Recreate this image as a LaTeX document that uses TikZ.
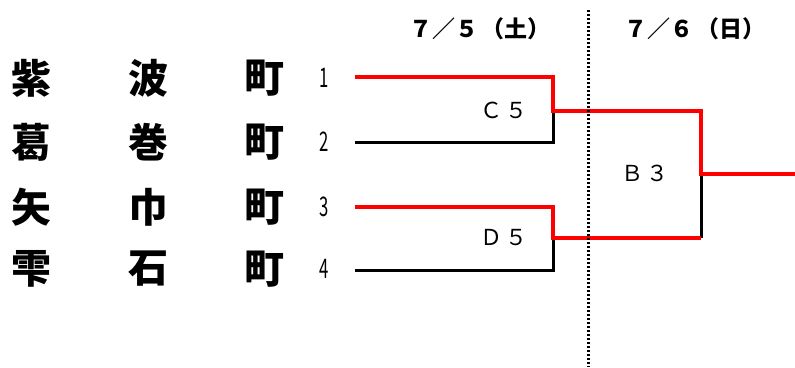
\documentclass[tikz,border=0pt]{standalone}
\usepackage{fontspec}
\newfontfamily\jp{Noto Sans CJK JP}
\begin{document}
\begin{tikzpicture}[x=1pt,y=-1pt,
  townlbl/.style={font=\jp\bfseries\fontsize{40}{40}\selectfont, inner sep=0pt, anchor=center},
  numlbl/.style={font=\jp\fontsize{27}{27}\selectfont, inner sep=0pt},
  datelbl/.style={font=\jp\bfseries\fontsize{23}{23}\selectfont, inner sep=0pt},
  matchlbl/.style={font=\jp\fontsize{22}{22}\selectfont, inner sep=0pt},
  win/.style={red, line width=4pt},
  lose/.style={black, line width=3pt}]
\useasboundingbox (0,0) rectangle (795,367);
% names
\foreach \y/\a/\b/\n [count=\i] in {78/紫/波/1, 142/葛/巻/2, 207/矢/巾/3, 269/雫/石/4}{
  \node[townlbl] (a\i) at (31,\y) {\a};
  \node[townlbl] (b\i) at (148,\y) {\b};
  \node[townlbl] (c\i) at (264,\y) {町};
  \node[numlbl] (n\i) at (324,\y) {\scalebox{0.62}[1]{\n}};
}
% coordinates
\coordinate (s1) at (355,77);
\coordinate (s2) at (355,142);
\coordinate (s3) at (355,207);
\coordinate (s4) at (355,270);
\coordinate (e1) at (553,77);
\coordinate (e2) at (553,142);
\coordinate (e3) at (553,207);
\coordinate (e4) at (553,270);
\coordinate (m1) at (553,111);
\coordinate (m2) at (553,238);
\coordinate (f1) at (701,111);
\coordinate (f2) at (701,238);
\coordinate (fm) at (701,174);
\coordinate (out) at (795,174);
\coordinate (dt) at (588,10);
\coordinate (db) at (588,367);
% lines
\draw[lose] (s2) -- (e2) -- (m1);
\draw[lose] (s4) -- (e4) -- (m2);
\draw[lose] (f2) -- (fm);
\draw[win] (s1) -- (e1) -- (m1) -- (f1) -- (fm) -- (out);
\draw[win] (s3) -- (e3) -- (m2) -- (f2);
\draw[black, line width=3pt, dash pattern=on 2pt off 2pt] (dt) -- (db);
% labels
\node[matchlbl] (c5) at (504,110) {Ｃ\hspace{3pt}５};
\node[matchlbl] (d5) at (504,238) {Ｄ\hspace{3pt}５};
\node[matchlbl] (b3) at (645,173) {Ｂ\hspace{3pt}３};
\node[datelbl] (d1) at (480,29) {７／５\hspace{4pt}（土）};
\node[datelbl] (d2) at (695,29) {７／６\hspace{4pt}（日）};
\end{tikzpicture}
\end{document}
